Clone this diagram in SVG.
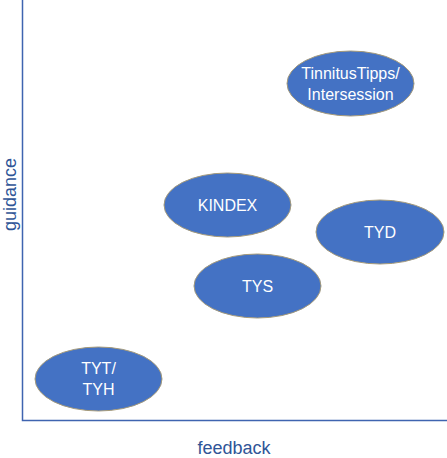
<svg xmlns="http://www.w3.org/2000/svg" width="447" height="458" viewBox="0 0 447 458">
<style>
.n ellipse{fill:#4472C4;stroke:#A59A7A;stroke-width:1}
.n text{fill:#fff;font-family:"Liberation Sans",Arial,sans-serif;font-size:16px;text-anchor:middle}
.ax{fill:#2F5597;font-family:"Liberation Sans",Arial,sans-serif;font-size:18px;text-anchor:middle}
</style>
<rect width="447" height="458" fill="#fff"/>
<g id="axes" fill="none" stroke="#3F64B0" stroke-width="1.5">
<path d="M22.5 0 V420.5 H447"/>
</g>
<text class="ax" x="234" y="454">feedback</text>
<text class="ax" transform="translate(16 194.5) rotate(-90)">guidance</text>
<g id="tinnitus" class="n"><ellipse cx="350.5" cy="83.5" rx="63.5" ry="32.5"/><text x="350.5" y="79">TinnitusTipps/</text><text x="350.5" y="100">Intersession</text></g>
<g id="kindex" class="n"><ellipse cx="227.5" cy="205" rx="63.5" ry="32"/><text x="227.5" y="211">KINDEX</text></g>
<g id="tyd" class="n"><ellipse cx="380" cy="232" rx="64" ry="32"/><text x="380" y="238">TYD</text></g>
<g id="tys" class="n"><ellipse cx="257.5" cy="286" rx="63.5" ry="32"/><text x="257.5" y="292">TYS</text></g>
<g id="tyt" class="n"><ellipse cx="98.5" cy="379" rx="63.5" ry="32"/><text x="98.5" y="374">TYT/</text><text x="98.5" y="395">TYH</text></g>
<g id="connectors"></g>
</svg>
